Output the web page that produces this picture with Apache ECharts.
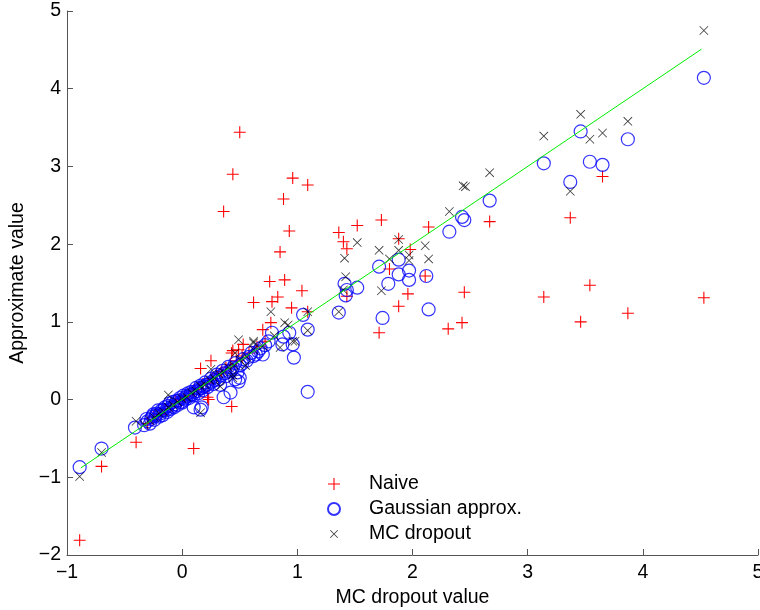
<!DOCTYPE html>
<html>
<head>
<meta charset="utf-8">
<script src="https://cdn.jsdelivr.net/npm/echarts@6/dist/echarts.min.js"></script>
<style>
  html, body { margin: 0; padding: 0; background: #fff; }
  #chart { width: 760px; height: 610px; }
</style>
</head>
<body>
<div id="chart"></div>
<script>
// Naive approximation (red +)
const naivePoints = [
  [0.50, 3.44], [0.44, 2.90], [0.36, 2.42], [0.96, 2.85], [1.09, 2.76], [0.88, 2.58],
  [0.93, 2.17], [0.85, 1.90], [0.76, 1.52], [0.89, 1.54], [1.04, 1.40], [0.62, 1.25],
  [0.83, 1.32], [0.78, 1.26], [0.95, 1.18], [0.77, 0.99], [0.70, 0.90], [1.09, 1.13],
  [1.36, 2.15], [1.52, 2.24], [1.40, 2.03], [1.43, 1.94], [1.73, 2.31], [1.88, 2.07],
  [1.98, 1.93], [2.14, 2.22], [2.67, 2.29], [1.80, 1.68], [2.11, 1.59], [1.96, 1.36],
  [1.88, 1.20], [1.71, 0.86], [2.31, 0.91], [2.43, 0.99], [2.45, 1.38], [1.43, 1.33],
  [3.37, 2.34], [3.14, 1.32], [3.54, 1.47], [3.46, 1.00], [3.87, 1.11], [4.53, 1.31],
  [3.65, 2.87], [-0.89, -1.81], [-0.70, -0.86], [-0.40, -0.55], [0.10, -0.63], [0.43, -0.09],
  [0.23, 0.00], [0.25, 0.50], [0.16, 0.40], [0.22, 0.03], [0.49, 0.64], [0.43, 0.60],
  [0.53, 0.71], [0.44, 0.63],
  [-0.30, -0.31], [-0.25, -0.22], [-0.20, -0.19], [-0.15, -0.12], [-0.10, -0.09], [-0.06, -0.02],
  [-0.02, 0.00], [0.02, 0.04], [0.06, 0.05], [0.10, 0.12], [0.14, 0.13], [0.18, 0.20],
  [0.22, 0.21], [0.26, 0.27], [0.30, 0.33], [0.34, 0.36], [0.38, 0.41], [0.42, 0.45],
  [0.47, 0.50], [0.52, 0.56], [0.58, 0.60], [0.65, 0.68], [0.72, 0.75]
];

// Gaussian approx. (blue circles)
const gaussPoints = [
  [4.53, 4.14], [3.87, 3.35], [3.46, 3.45], [3.14, 3.04], [3.54, 3.06], [3.65, 3.02],
  [3.37, 2.80], [2.67, 2.56], [2.43, 2.35], [2.45, 2.31], [2.32, 2.16], [1.88, 1.80],
  [1.71, 1.71], [1.97, 1.66], [1.88, 1.61], [1.97, 1.54], [1.79, 1.49], [2.12, 1.59],
  [1.41, 1.49], [1.43, 1.41], [1.42, 1.34], [1.52, 1.44], [1.36, 1.12], [1.74, 1.05],
  [2.14, 1.16], [1.05, 1.09], [1.09, 0.90], [0.96, 0.71], [0.97, 0.54], [1.09, 0.10],
  [0.93, 0.86], [0.78, 0.86], [0.88, 0.81], [0.75, 0.75], [0.87, 0.71], [0.70, 0.58],
  [0.50, 0.28], [0.33, 0.19], [0.42, 0.09], [0.36, 0.03], [0.10, -0.10], [0.16, -0.13],
  [0.46, 0.26], [0.48, 0.35], [-0.41, -0.36], [-0.25, -0.19], [-0.89, -0.87], [-0.70, -0.63],
  [0.17, -0.10], [0.49, 0.23],
  [-0.33, -0.33], [-0.30, -0.28], [-0.28, -0.31], [-0.26, -0.22], [-0.24, -0.26], [-0.22, -0.18],
  [-0.20, -0.22], [-0.18, -0.14], [-0.17, -0.20], [-0.15, -0.10], [-0.13, -0.16], [-0.12, -0.08],
  [-0.10, -0.12], [-0.08, -0.03], [-0.07, -0.10], [-0.05, -0.02], [-0.04, -0.07], [-0.02, 0.02],
  [0.00, -0.04], [0.01, 0.05], [0.03, 0.00], [0.05, 0.08], [0.06, 0.02], [0.08, 0.10],
  [0.10, 0.05], [0.12, 0.15], [0.14, 0.08], [0.16, 0.18], [0.18, 0.12], [0.20, 0.22],
  [0.22, 0.16], [0.25, 0.27], [0.27, 0.20], [0.30, 0.32], [0.32, 0.26], [0.35, 0.37],
  [0.38, 0.30], [0.40, 0.42], [0.43, 0.38], [0.46, 0.47], [0.50, 0.44], [0.53, 0.52],
  [0.56, 0.50], [0.60, 0.60], [0.64, 0.58], [0.68, 0.66], [0.72, 0.70],
  [-0.31, -0.25], [-0.27, -0.25], [-0.23, -0.21], [-0.21, -0.14], [-0.19, -0.18], [-0.16, -0.13],
  [-0.14, -0.14], [-0.11, -0.05], [-0.09, -0.09], [-0.06, -0.06], [-0.03, -0.01], [-0.01, -0.03],
  [0.02, 0.02], [0.04, 0.04], [0.07, 0.06], [0.09, 0.07], [0.11, 0.10], [0.13, 0.11],
  [0.15, 0.14], [0.17, 0.15], [0.19, 0.17], [0.21, 0.19], [0.23, 0.20], [0.26, 0.23],
  [0.28, 0.25], [0.31, 0.29], [0.34, 0.31], [0.37, 0.34], [0.41, 0.36], [0.44, 0.41],
  [0.52, 0.46], [0.58, 0.55], [0.62, 0.56], [0.66, 0.62]
];

// MC dropout (black x)
const mcPoints = [
  [4.53, 4.75], [3.46, 3.67], [3.87, 3.58], [3.14, 3.39], [3.65, 3.43], [3.54, 3.35],
  [3.37, 2.68], [2.67, 2.92], [2.44, 2.75], [2.46, 2.74], [2.32, 2.42], [1.88, 2.06],
  [1.71, 1.92], [1.88, 1.92], [1.97, 1.86], [1.97, 1.79], [2.11, 1.98], [2.14, 1.81],
  [1.80, 1.81], [1.52, 2.02], [1.41, 1.82], [1.42, 1.58], [1.40, 1.41], [1.73, 1.40],
  [1.36, 1.13], [1.09, 0.89], [1.09, 1.13], [0.77, 1.13], [0.89, 0.99], [0.92, 0.96],
  [0.96, 0.75], [0.85, 0.67], [0.62, 0.75], [0.49, 0.77], [0.98, 0.75], [0.55, 0.44],
  [0.44, 0.28], [-0.40, -0.28], [-0.12, 0.06], [0.16, -0.17], [0.25, 0.39], [0.33, 0.17],
  [0.44, 0.32], [0.46, 0.60], [-0.89, -0.99], [-0.70, -0.68], [0.62, 0.73],
  [-0.33, -0.32], [-0.28, -0.27], [-0.24, -0.23], [-0.20, -0.18], [-0.16, -0.16], [-0.12, -0.10],
  [-0.08, -0.07], [-0.04, -0.03], [0.00, 0.01], [0.04, 0.03], [0.08, 0.09], [0.12, 0.11],
  [0.16, 0.17], [0.20, 0.19], [0.24, 0.25], [0.28, 0.27], [0.32, 0.33], [0.36, 0.35],
  [0.40, 0.42], [0.45, 0.44], [0.50, 0.51], [0.56, 0.55], [0.62, 0.64], [0.70, 0.69],
  [0.80, 0.82]
];

// y = x reference line
const identityLine = [[-0.88, -0.88], [4.51, 4.51]];

const seriesNames = ['Naive', 'Gaussian approx.', 'MC dropout'];

const plusPath = 'path://M0,4.55H10V5.45H0Z M4.55,0H5.45V10H4.55Z';
const crossPath = 'path://M0,0.6L0.6,0L10,9.4L9.4,10Z M9.4,0L10,0.6L0.6,10L0,9.4Z';
// legend cross is drawn smaller: extra move-to points pad its box
const crossLegendPath = 'path://M-2.5,-2.5 M12.5,12.5 M0,0.7L0.7,0L10,9.3L9.3,10Z M9.3,0L10,0.7L0.7,10L0,9.3Z';
const font = '"Liberation Sans", Arial, Helvetica, sans-serif';
const axisColor = '#555';
const minus = v => String(v).replace('-', '\u2212');

const chart = echarts.init(document.getElementById('chart'));
chart.setOption({
  animation: false,
  backgroundColor: '#fff',
  textStyle: { fontFamily: font },
  grid: { left: 67, right: 2, top: 11, bottom: 55, containLabel: false, outerBoundsMode: 'none' },
  legend: {
    orient: 'vertical',
    left: 322,
    top: 469,
    itemWidth: 60,
    itemHeight: 12,
    itemGap: 5,
    selectedMode: false,
    textStyle: { fontSize: 19.5, color: '#000', fontFamily: font, lineHeight: 20 },
    data: [
      { name: seriesNames[0], icon: plusPath },
      { name: seriesNames[1], icon: 'circle' },
      { name: seriesNames[2], icon: crossLegendPath }
    ]
  },
  xAxis: {
    type: 'value',
    min: -1, max: 5, interval: 1,
    name: 'MC dropout value',
    nameLocation: 'middle',
    nameGap: 32,
    nameTextStyle: { fontSize: 19.5, color: '#000', fontFamily: font },
    splitLine: { show: false },
    axisLine: { onZero: false, lineStyle: { color: axisColor, width: 1 } },
    axisTick: { inside: true, length: 6, lineStyle: { color: axisColor } },
    axisLabel: { fontSize: 19.5, color: '#000', margin: 8, formatter: minus }
  },
  yAxis: {
    type: 'value',
    min: -2, max: 5, interval: 1,
    name: 'Approximate value',
    nameLocation: 'middle',
    nameGap: 39,
    nameTextStyle: { fontSize: 19.5, color: '#000', fontFamily: font },
    splitLine: { show: false },
    axisLine: { show: true, onZero: false, lineStyle: { color: axisColor, width: 1 } },
    axisTick: { show: true, inside: true, length: 6, lineStyle: { color: axisColor } },
    axisLabel: { fontSize: 19.5, color: '#000', margin: 6, formatter: minus }
  },
  series: [
    {
      name: seriesNames[0],
      type: 'scatter',
      data: naivePoints,
      symbol: plusPath,
      symbolSize: 12,
      itemStyle: { color: '#ff0000', opacity: 1 }
    },
    {
      name: seriesNames[1],
      type: 'scatter',
      data: gaussPoints,
      symbol: 'circle',
      symbolSize: 13,
      itemStyle: { color: 'transparent', borderColor: '#0000ff', borderWidth: 1.2 }
    },
    {
      name: seriesNames[2],
      type: 'scatter',
      data: mcPoints,
      symbol: crossPath,
      symbolSize: 9,
      itemStyle: { color: '#000000' }
    },
    {
      name: 'identity',
      type: 'line',
      data: identityLine,
      symbol: 'none',
      lineStyle: { color: '#00ee00', width: 1 },
      z: 5
    }
  ]
});
</script>
</body>
</html>
